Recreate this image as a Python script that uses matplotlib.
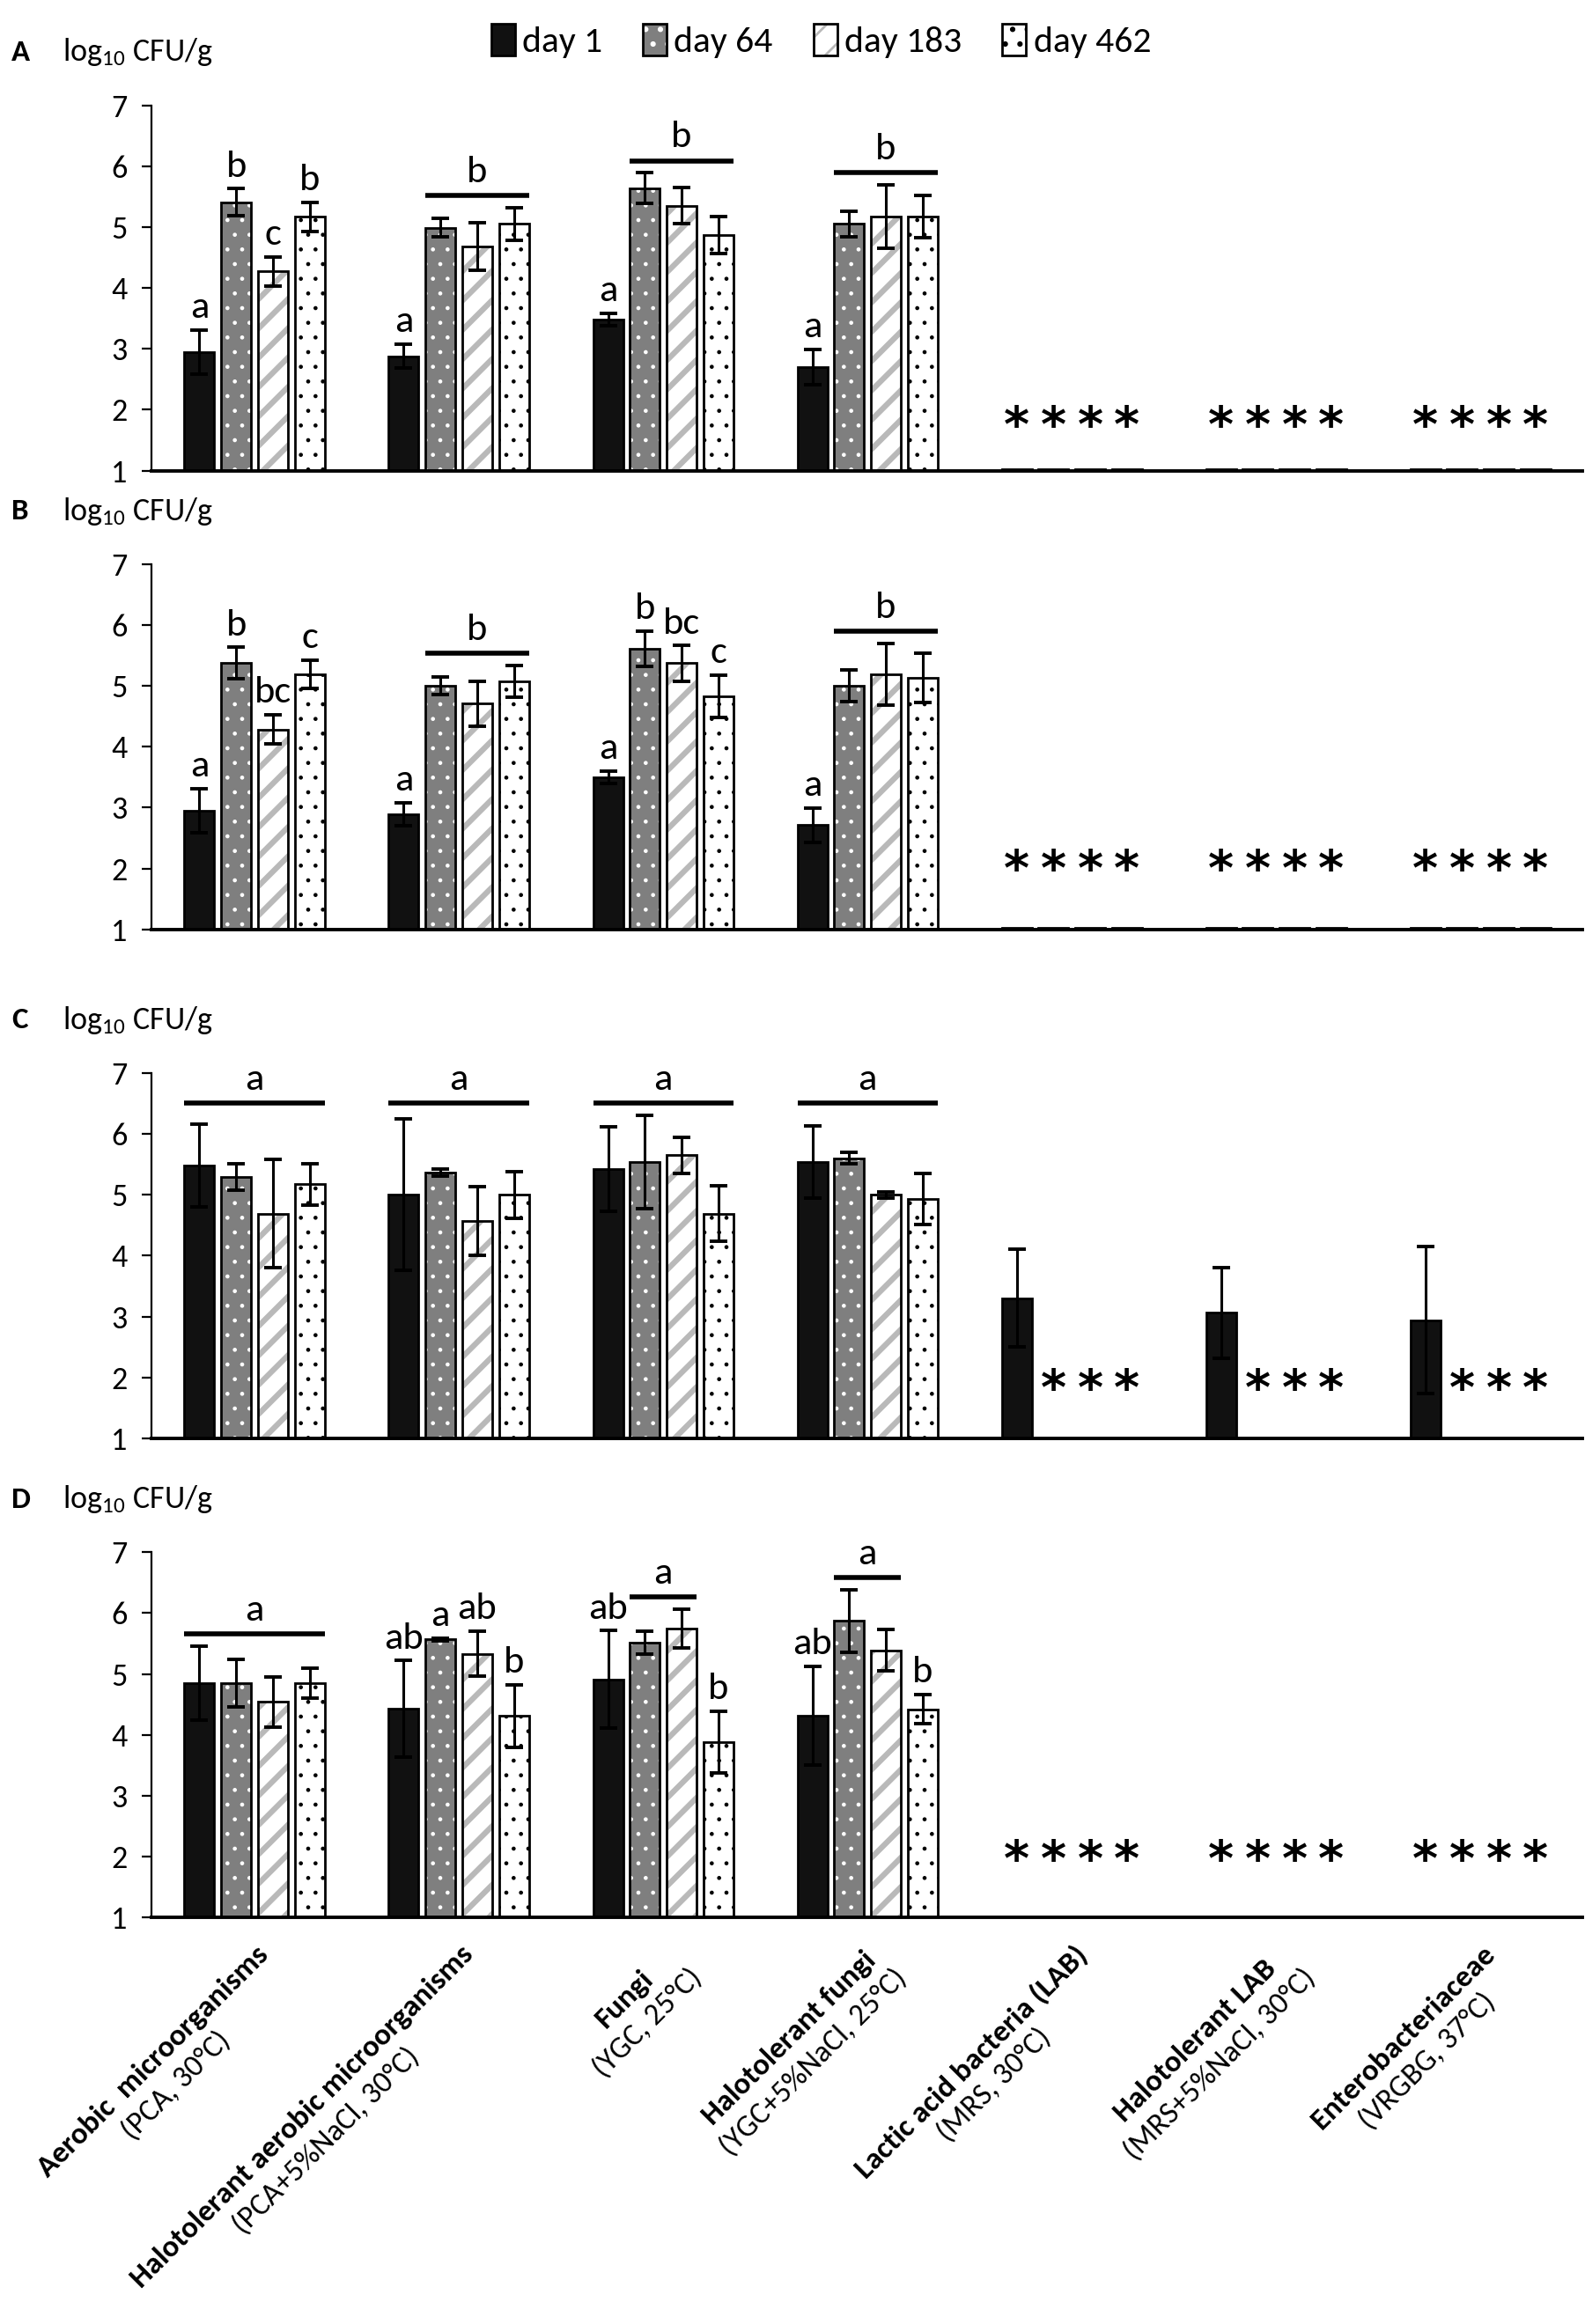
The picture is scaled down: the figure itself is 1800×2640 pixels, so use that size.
import numpy as np
import matplotlib
matplotlib.use("Agg")
import matplotlib.pyplot as plt
from matplotlib.patches import Patch
from matplotlib.textpath import TextPath
from matplotlib.font_manager import FontProperties

plt.rcParams['font.family'] = ['Carlito', 'DejaVu Sans']
plt.rcParams['mathtext.fontset'] = 'custom'
plt.rcParams['mathtext.rm'] = 'Carlito'
plt.rcParams['mathtext.bf'] = 'Carlito:bold'
plt.rcParams['mathtext.it'] = 'Carlito:italic'

nan = np.nan
ND = 1.02   # not detected: flat bar sitting on the axis

DAYS = ["day 1", "day 64", "day 183", "day 462"]
GROUPS = ["Aerobic  microorganisms", "Halotolerant aerobic microorganisms", "Fungi",
          "Halotolerant fungi", "Lactic acid bacteria (LAB)", "Halotolerant LAB",
          "Enterobacteriaceae"]
MEDIA = ["(PCA, 30°C)", "(PCA+5%NaCl, 30°C)", "(YGC, 25°C)", "(YGC+5%NaCl, 25°C)",
         "(MRS, 30°C)", "(MRS+5%NaCl, 30°C)", "(VRGBG, 37°C)"]

# rows = days, columns = groups ; nan = no bar
A_mean = [[2.95, 2.88, 3.48, 2.70, ND, ND, ND],
          [5.41, 4.99, 5.64, 5.05, ND, ND, ND],
          [4.27, 4.68, 5.35, 5.17, ND, ND, ND],
          [5.17, 5.05, 4.87, 5.17, ND, ND, ND]]
A_sd = [[0.36, 0.20, 0.10, 0.29, nan, nan, nan],
        [0.22, 0.15, 0.25, 0.21, nan, nan, nan],
        [0.24, 0.39, 0.30, 0.52, nan, nan, nan],
        [0.24, 0.27, 0.30, 0.35, nan, nan, nan]]

B_mean = [[2.95, 2.89, 3.50, 2.71, ND, ND, ND],
          [5.37, 5.00, 5.61, 5.00, ND, ND, ND],
          [4.28, 4.71, 5.37, 5.19, ND, ND, ND],
          [5.19, 5.07, 4.83, 5.13, ND, ND, ND]]
B_sd = [[0.36, 0.19, 0.10, 0.28, nan, nan, nan],
        [0.26, 0.14, 0.29, 0.26, nan, nan, nan],
        [0.24, 0.37, 0.29, 0.51, nan, nan, nan],
        [0.23, 0.26, 0.35, 0.41, nan, nan, nan]]

C_mean = [[5.48, 5.00, 5.42, 5.54, 3.30, 3.06, 2.94],
          [5.29, 5.36, 5.54, 5.60, nan, nan, nan],
          [4.69, 4.57, 5.65, 5.00, nan, nan, nan],
          [5.17, 5.00, 4.69, 4.93, nan, nan, nan]]
C_sd = [[0.68, 1.24, 0.69, 0.59, 0.80, 0.75, 1.21],
        [0.22, 0.06, 0.77, 0.09, nan, nan, nan],
        [0.89, 0.57, 0.30, 0.05, nan, nan, nan],
        [0.34, 0.38, 0.46, 0.42, nan, nan, nan]]

D_mean = [[4.85, 4.43, 4.91, 4.31, nan, nan, nan],
          [4.85, 5.57, 5.51, 5.87, nan, nan, nan],
          [4.54, 5.33, 5.75, 5.39, nan, nan, nan],
          [4.85, 4.31, 3.88, 4.42, nan, nan, nan]]
D_sd = [[0.61, 0.79, 0.80, 0.81, nan, nan, nan],
        [0.39, 0.02, 0.19, 0.51, nan, nan, nan],
        [0.41, 0.37, 0.32, 0.34, nan, nan, nan],
        [0.24, 0.51, 0.51, 0.24, nan, nan, nan]]

# letters over single bars: (group, day, letter)
A_letters = [(0, 0, 'a'), (0, 1, 'b'), (0, 2, 'c'), (0, 3, 'b'), (1, 0, 'a'), (2, 0, 'a'), (3, 0, 'a')]
B_letters = [(0, 0, 'a'), (0, 1, 'b'), (0, 2, 'bc'), (0, 3, 'c'), (1, 0, 'a'), (2, 0, 'a'),
             (2, 1, 'b'), (2, 2, 'bc'), (2, 3, 'c'), (3, 0, 'a')]
C_letters = []
D_letters = [(1, 0, 'ab'), (1, 1, 'a'), (1, 2, 'ab'), (1, 3, 'b'), (2, 0, 'ab'), (2, 3, 'b'),
             (3, 0, 'ab'), (3, 3, 'b')]
# letters over a line spanning bars: (group, first day, last day, letter)
A_lines = [(1, 1, 3, 'b'), (2, 1, 3, 'b'), (3, 1, 3, 'b')]
B_lines = [(1, 1, 3, 'b'), (3, 1, 3, 'b')]
C_lines = [(0, 0, 3, 'a'), (1, 0, 3, 'a'), (2, 0, 3, 'a'), (3, 0, 3, 'a')]
D_lines = [(0, 0, 3, 'a'), (2, 1, 2, 'a'), (3, 1, 2, 'a')]

PANELS = [("A", A_mean, A_sd, A_letters, A_lines, 0.0, 1.95),
          ("B", B_mean, B_sd, B_letters, B_lines, 0.0, 2.2),
          ("C", C_mean, C_sd, C_letters, C_lines, 6.5, 2.03),
          ("D", D_mean, D_sd, D_letters, D_lines, 0.0, 2.17)]

FACE = ["#111111", "#7f7f7f", "white", "white"]
HATCH = [None, "..", "//", ".."]
HATCH_COLOR = ["#111111", "white", "#b9b9b9", "black"]
HATCH_LW = [0.5, 0.45, 2.3, 0.45]

WIDTH = 0.1466
PITCH = 0.1797
OFFSETS = (np.arange(4) - 1.5) * PITCH
BOTTOMS = [0.7975, 0.6001, 0.3811, 0.1749]
LABEL_SIZE = 12.5

fig = plt.figure(figsize=(9, 13.2), dpi=200)
x = np.arange(len(GROUPS))


def draw_bars(ax, mean, sd):
    for j in range(4):
        vals = np.array(mean[j], dtype=float)
        err = np.array(sd[j], dtype=float)
        pos = x + OFFSETS[j]
        fill = ax.bar(pos, vals - 1, WIDTH, bottom=1, color=FACE[j],
                      edgecolor=HATCH_COLOR[j], hatch=HATCH[j], linewidth=0, zorder=2)
        for p in fill:
            p.set_hatch_linewidth(HATCH_LW[j])
        ax.bar(pos, vals - 1, WIDTH, bottom=1, color='none', edgecolor='black',
               linewidth=1.0, zorder=3)
        ax.errorbar(pos, vals, yerr=err, fmt='none', ecolor='black', elinewidth=1.1,
                    capsize=3.6, capthick=1.4, zorder=4)


def text_width(s, weight):
    tp = TextPath((0, 0), s, size=LABEL_SIZE, prop=FontProperties(family='Carlito', weight=weight))
    return tp.get_extents().width


def category_label(ax, g):
    # two-line block, lines centred on each other, block's top-right corner at the tick
    w1 = text_width(GROUPS[g], 'bold')
    w2 = text_width(MEDIA[g], 'normal')
    w = max(w1, w2)
    c = s = np.sqrt(0.5)
    ax0, ay0 = 0.0, -10.0
    step = 1.1 * LABEL_SIZE
    for line, (txt, weight) in enumerate([(GROUPS[g], 'bold'), (MEDIA[g], 'normal')]):
        u, v = -w / 2, -step * line
        ax.annotate(txt, xy=(x[g], 0), xycoords=('data', 'axes fraction'),
                    xytext=(ax0 + u * c - v * s, ay0 + u * s + v * c),
                    textcoords='offset points', rotation=45, rotation_mode='anchor',
                    ha='center', va='top', fontsize=LABEL_SIZE, fontweight=weight)


for k, (tag, mean, sd, letters, lines, floor, star_y) in enumerate(PANELS):
    ax = fig.add_axes([0.0956, BOTTOMS[k], 0.9028, 0.1572])
    draw_bars(ax, mean, sd)
    mean_a = np.array(mean, dtype=float)
    top = mean_a + np.nan_to_num(np.array(sd, dtype=float))

    for g, d, s in letters:
        ax.text(x[g] + OFFSETS[d], top[d, g] + 0.2, s, ha='center', va='baseline',
                fontsize=16, zorder=5)
    for g, d0, d1, s in lines:
        ly = max(np.nanmax(top[d0:d1 + 1, g]) + 0.2, floor)
        x0 = x[g] + OFFSETS[d0] - WIDTH / 2
        x1 = x[g] + OFFSETS[d1] + WIDTH / 2
        ax.plot([x0, x1], [ly, ly], color='black', lw=2.0, solid_capstyle='butt', zorder=5)
        ax.text((x0 + x1) / 2, ly + 0.22, s, ha='center', va='baseline', fontsize=16, zorder=5)
    # not detected -> asterisk in place of the bar
    for d in range(4):
        for g in range(len(GROUPS)):
            v = mean_a[d, g]
            if np.isnan(v) or v <= ND:
                ax.text(x[g] + OFFSETS[d], star_y - 0.47, "*", ha='center', va='baseline',
                        fontsize=20, fontweight='bold', family='DejaVu Sans', zorder=5)

    ax.set_ylim(1, 7)
    ax.set_xlim(-0.504, 6.5)
    ax.set_yticks(range(1, 8))
    ax.set_xticks([])
    ax.tick_params(axis='y', direction='out', length=4, width=0.8, labelsize=13, pad=6)
    for side in ['top', 'right']:
        ax.spines[side].set_visible(False)
    ax.spines['left'].set_linewidth(0.8)
    ax.spines['bottom'].set_linewidth(1.4)
    ax.text(-0.098, 1.145, tag, transform=ax.transAxes, ha='left', va='center',
            fontsize=12.5, fontweight='bold')
    ax.text(-0.062, 1.145, r"log$_{10}$ CFU/g", transform=ax.transAxes, ha='left',
            va='center', fontsize=13)

    if k == 3:
        for g in range(len(GROUPS)):
            category_label(ax, g)

handles = []
for j in range(4):
    h = Patch(facecolor=FACE[j], edgecolor=HATCH_COLOR[j], hatch=HATCH[j], linewidth=0)
    h.set_hatch_linewidth(HATCH_LW[j])
    handles.append(h)
outline = [Patch(facecolor='none', edgecolor='black', linewidth=1.0) for _ in range(4)]
fig.legend([(handles[j], outline[j]) for j in range(4)], DAYS, loc='upper center',
           bbox_to_anchor=(0.518, 1.004), ncol=4, frameon=False, fontsize=15,
           handlelength=0.65, handleheight=0.95, handletextpad=0.2, columnspacing=1.1)

fig.savefig("out.png", dpi=200)
